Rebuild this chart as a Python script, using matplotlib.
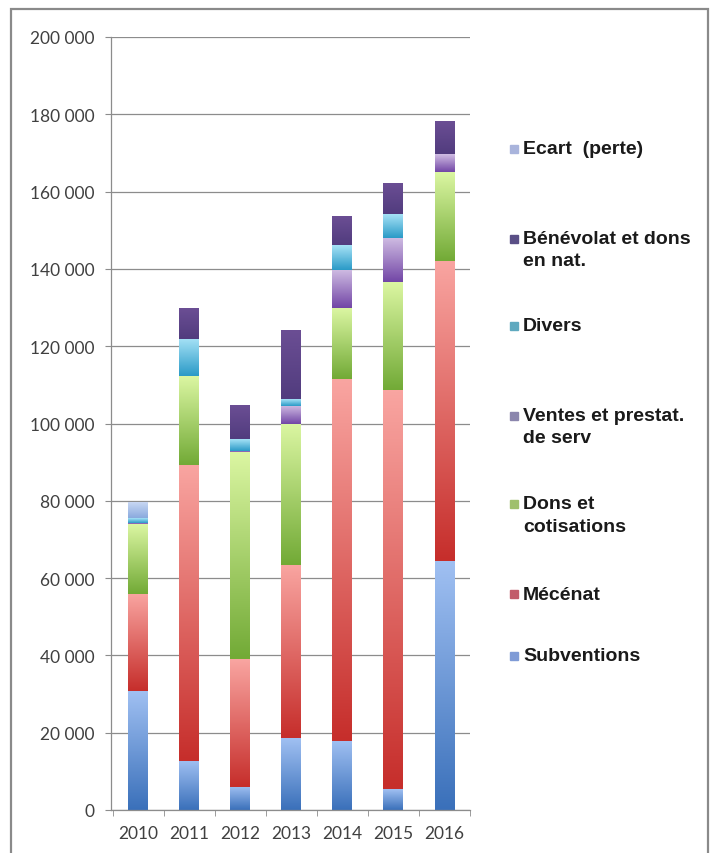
import numpy as np
import matplotlib
matplotlib.use("Agg")
import matplotlib.pyplot as plt
from matplotlib.colors import LinearSegmentedColormap
from matplotlib.patches import Rectangle
from matplotlib.ticker import FuncFormatter

# Data (euros)
years = ["2010", "2011", "2012", "2013", "2014", "2015", "2016"]
subventions = [30700, 12700, 6000, 18600, 17900, 5400, 64300]
mecenat = [25200, 76600, 33100, 44800, 93600, 103300, 77800]
dons = [18100, 23000, 53500, 36500, 18300, 27800, 23000]
ventes = [300, 0, 300, 4700, 9900, 11600, 4500]
divers = [1200, 9600, 3100, 1700, 6400, 6100, 0]
benevolat = [0, 8000, 8600, 17700, 7300, 7800, 8300]
ecart = [4100, 0, 0, 0, 0, 0, 0]

series = [
    ("Subventions", subventions, ("#3a70ba", "#a0c0f2")),
    ("Mécénat", mecenat, ("#c62e2b", "#f9a5a1")),
    ("Dons et\ncotisations", dons, ("#72aa36", "#dbf6a2")),
    ("Ventes et prestat.\nde serv", ventes, ("#7246a6", "#d0bde3")),
    ("Divers", divers, ("#2a9ac7", "#a6e2f6")),
    ("Bénévolat et dons\nen nat.", benevolat, ("#513c7e", "#6b4e94")),
    ("Ecart  (perte)", ecart, ("#8aaade", "#c8d7f3")),
]
legend_keys = ["#7f9bd6", "#c25b6a", "#9fc06c", "#8b86ad", "#5fa9bf", "#5a4f86", "#a9b4dc"]
legend_y = [657, 595, 505, 417, 327, 240, 150]  # pixel rows, top-down

W, H = 718, 854
fig = plt.figure(figsize=(W / 100, H / 100), dpi=100)
ax = fig.add_axes([111 / W, 43 / H, 359 / W, 773 / H])

x = np.arange(len(years))
grad = np.linspace(0, 1, 128).reshape(-1, 1)
bottom = np.zeros(len(years))
for name, vals, (c0, c1) in series:
    cmap = LinearSegmentedColormap.from_list(name, [c0, c1])
    bars = ax.bar(x, vals, bottom=bottom, width=0.39, color="none", edgecolor="none")
    for r in bars:
        if r.get_height() <= 0:
            continue
        x0, y0 = r.get_x(), r.get_y()
        ax.imshow(grad, extent=[x0, x0 + r.get_width(), y0, y0 + r.get_height()],
                  cmap=cmap, origin="lower", aspect="auto", zorder=2,
                  interpolation="bilinear")
    bottom += np.array(vals)

gray = "#8c8c8c"
ax.set_xlim(-0.53, 6.49)
ax.set_ylim(0, 200000)
ax.set_yticks(np.arange(0, 200001, 20000))
ax.yaxis.set_major_formatter(FuncFormatter(lambda v, p: f"{int(v):,}".replace(",", " ")))
ax.set_xticks(x, labels=years)
ax.set_xticks(np.arange(-0.5, 6.6, 1), minor=True)
ax.grid(axis="y", color=gray, lw=0.9)
ax.set_axisbelow(True)
for s in ["top", "right"]:
    ax.spines[s].set_visible(False)
for s in ["left", "bottom"]:
    ax.spines[s].set_color(gray)
    ax.spines[s].set_linewidth(0.9)
ax.tick_params(axis="y", length=4, color=gray, pad=8, labelsize=12.5,
               labelcolor="#404040", labelfontfamily="Lato")
ax.tick_params(axis="x", which="major", length=0, pad=11, labelsize=12.5,
               labelcolor="#404040", labelfontfamily="Lato")
ax.tick_params(axis="x", which="minor", length=4, color=gray)

# legend, Excel style
for (name, vals, cols), key, yp in zip(series, legend_keys, legend_y):
    fy = 1 - yp / H
    fig.patches.append(Rectangle((510 / W, fy - 4 / H), 8 / W, 8 / H,
                                 transform=fig.transFigure, color=key))
    for i, line in enumerate(name.split("\n")):
        fig.text(523 / W, 1 - (yp + 22 * i) / H, line, va="center", ha="left",
                 fontsize=14, fontweight="bold", family="Liberation Sans",
                 color="#1a1a1a")

# outer frame, cut at the bottom
fig.patches.append(Rectangle((11 / W, -0.05), 697 / W, 1.05 - 10 / H,
                             transform=fig.transFigure, fill=False,
                             edgecolor="#8a8a8a", lw=1.6))

fig.savefig("out.png", dpi=100)
